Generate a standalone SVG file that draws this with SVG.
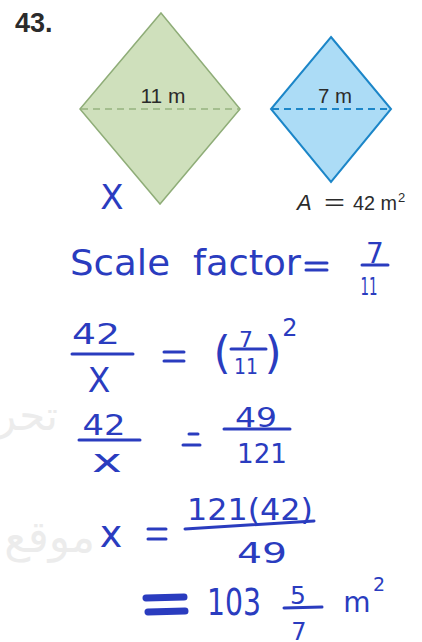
<svg xmlns="http://www.w3.org/2000/svg" width="422" height="642" viewBox="0 0 422 642">
<style>
.print{font-family:"Liberation Sans",Arial,sans-serif;fill:#2b2b2b}
.hw{font-family:"DejaVu Sans",sans-serif;fill:#2a3cbf}
.bar{stroke:#2a3cbf;stroke-width:3;stroke-linecap:round;fill:none}
.wm{font-family:"DejaVu Sans",sans-serif;fill:#ececec}
</style>
<rect width="422" height="642" fill="#ffffff"/>
<!-- watermark -->
<text class="wm" x="58" y="430" font-size="42" text-anchor="end">تحر</text>
<text class="wm" x="95" y="552" font-size="44" text-anchor="end">موقع</text>
<!-- problem number -->
<text class="print" x="15" y="32" font-size="27" font-weight="bold">43.</text>
<!-- green rhombus -->
<g id="green-rhombus">
<polygon points="161,13 240,109 160,204 80,109" fill="#cfe0bc" stroke="#8fad78" stroke-width="1.5"/>
<line x1="81" y1="109" x2="239" y2="109" stroke="#97b27f" stroke-width="1.5" stroke-dasharray="7,5"/>
<text class="print" x="163" y="103" font-size="20" text-anchor="middle" textLength="45" lengthAdjust="spacingAndGlyphs">11 m</text>
</g>
<!-- blue rhombus -->
<g id="blue-rhombus">
<polygon points="331,37 391,109 331,182 271,109" fill="#acdcf6" stroke="#1c86c8" stroke-width="2"/>
<line x1="272" y1="109" x2="390" y2="109" stroke="#1c86c8" stroke-width="2" stroke-dasharray="7,5"/>
<text class="print" x="335" y="103" font-size="20" text-anchor="middle" textLength="34" lengthAdjust="spacingAndGlyphs">7 m</text>
</g>
<text class="print" x="297" y="210" font-size="22" font-style="italic">A</text>
<text class="print" x="324" y="210" font-size="22" textLength="21" lengthAdjust="spacingAndGlyphs">=</text>
<text class="print" x="353" y="210" font-size="20" textLength="44" lengthAdjust="spacingAndGlyphs">42 m</text>
<text class="print" x="398" y="202" font-size="13">2</text>
<!-- handwritten -->
<text class="hw" x="112" y="209" font-size="34" text-anchor="middle">X</text>
<text class="hw" x="70" y="275" font-size="36" textLength="100" lengthAdjust="spacingAndGlyphs">Scale</text>
<text class="hw" x="193" y="275" font-size="36" textLength="108" lengthAdjust="spacingAndGlyphs">factor</text>
<line class="bar" x1="306" y1="263" x2="327" y2="263"/>
<line class="bar" x1="306" y1="270" x2="327" y2="270"/>
<text class="hw" x="375" y="263" font-size="28" text-anchor="middle">7</text>
<line class="bar" x1="362" y1="265" x2="388" y2="265"/>
<text class="hw" x="369" y="295" font-size="24" text-anchor="middle" textLength="17" lengthAdjust="spacingAndGlyphs">11</text>
<!-- 42/X = (7/11)^2 -->
<text class="hw" x="96" y="344" font-size="28" text-anchor="middle" textLength="48" lengthAdjust="spacingAndGlyphs">42</text>
<line class="bar" x1="72" y1="354" x2="133" y2="354"/>
<text class="hw" x="99" y="392" font-size="33" text-anchor="middle">X</text>
<line class="bar" x1="164" y1="352" x2="184" y2="352"/>
<line class="bar" x1="164" y1="361" x2="184" y2="361"/>
<text class="hw" x="222" y="368" font-size="44" text-anchor="middle">(</text>
<text class="hw" x="246" y="347" font-size="22" text-anchor="middle">7</text>
<line class="bar" x1="231" y1="349" x2="266" y2="349"/>
<text class="hw" x="246" y="374" font-size="22" text-anchor="middle" textLength="24" lengthAdjust="spacingAndGlyphs">11</text>
<text class="hw" x="273" y="368" font-size="44" text-anchor="middle">)</text>
<text class="hw" x="290" y="336" font-size="24" text-anchor="middle">2</text>
<!-- 42/x = 49/121 -->
<text class="hw" x="104" y="435" font-size="28" text-anchor="middle" textLength="43" lengthAdjust="spacingAndGlyphs">42</text>
<line class="bar" x1="79" y1="440" x2="140" y2="440"/>
<text class="hw" x="107" y="472" font-size="32" text-anchor="middle" textLength="30" lengthAdjust="spacingAndGlyphs">x</text>
<line class="bar" x1="189" y1="434" x2="198" y2="434"/>
<line class="bar" x1="183" y1="445" x2="200" y2="445"/>
<text class="hw" x="256" y="427" font-size="27" text-anchor="middle" textLength="42" lengthAdjust="spacingAndGlyphs">49</text>
<line class="bar" x1="224" y1="429" x2="290" y2="429"/>
<text class="hw" x="262" y="463" font-size="27" text-anchor="middle" textLength="50" lengthAdjust="spacingAndGlyphs">121</text>
<!-- x = 121(42)/49 -->
<text class="hw" x="111" y="547" font-size="38" text-anchor="middle">x</text>
<line class="bar" x1="148" y1="529" x2="166" y2="529"/>
<line class="bar" x1="148" y1="539" x2="166" y2="539"/>
<text class="hw" x="250" y="520" font-size="30" text-anchor="middle" textLength="126" lengthAdjust="spacingAndGlyphs">121(42)</text>
<line class="bar" x1="185" y1="529" x2="314" y2="521"/>
<text class="hw" x="262" y="563" font-size="28" text-anchor="middle" textLength="50" lengthAdjust="spacingAndGlyphs">49</text>
<!-- = 103 5/7 m^2 -->
<path d="M146,598 L184,597 M148,612 L185,611" stroke="#2a3cbf" stroke-width="7" stroke-linecap="round" fill="none"/>
<text class="hw" x="234" y="615" font-size="38" text-anchor="middle" textLength="54" lengthAdjust="spacingAndGlyphs">103</text>
<text class="hw" x="298" y="604" font-size="25" text-anchor="middle">5</text>
<line class="bar" x1="284" y1="608" x2="322" y2="607"/>
<text class="hw" x="299" y="640" font-size="24" text-anchor="middle">7</text>
<text class="hw" x="357" y="612" font-size="28" text-anchor="middle">m</text>
<text class="hw" x="379" y="591" font-size="19" text-anchor="middle">2</text>
</svg>
